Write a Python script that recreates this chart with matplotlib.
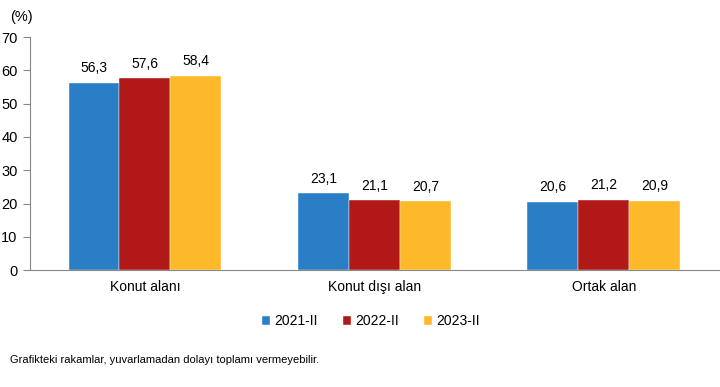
import matplotlib.pyplot as plt
import numpy as np

plt.rcParams['font.family'] = ['Liberation Sans', 'DejaVu Sans']

categories = ["Konut alanı", "Konut dışı alan", "Ortak alan"]
series = ["2021-II", "2022-II", "2023-II"]
v2021 = [56.3, 23.1, 20.6]
v2022 = [57.6, 21.1, 21.2]
v2023 = [58.4, 20.7, 20.9]
colors = ["#2a7ec6", "#b11818", "#fdb92a"]
yticks = [0, 10, 20, 30, 40, 50, 60, 70]

fig = plt.figure(figsize=(7.2, 3.87), dpi=100)
ax = fig.add_axes([0.042, 0.302, 0.956, 0.602])

x = np.arange(len(categories))
w = 0.222
for i, (name, vals) in enumerate(zip(series, [v2021, v2022, v2023])):
    pos = x + (i - 1) * w
    ax.bar(pos, vals, width=w, color=colors[i], label=name,
           edgecolor="white", linewidth=0.3)
    for p, v in zip(pos, vals):
        ax.text(p, v + 2.2, f"{v:.1f}".replace(".", ","), ha="center",
                va="bottom", fontsize=10)

ax.set_xlim(-0.5, 2.5)
ax.set_ylim(0, 70)
ax.set_yticks(yticks)
ax.set_yticklabels([str(t) for t in yticks], fontsize=10.5)
ax.set_xticks(x)
ax.set_xticklabels(categories, fontsize=10)
ax.tick_params(axis="x", length=0, pad=7)
ax.tick_params(axis="y", length=5, color="#888888", pad=4)
for s in ["top", "right"]:
    ax.spines[s].set_visible(False)
ax.spines["left"].set_color("#888888")
ax.spines["bottom"].set_color("#888888")

fig.text(0.014, 0.955, "(%)", fontsize=10.5, va="center")

fig.legend(loc="center", bbox_to_anchor=(0.515, 0.17), ncol=3, frameon=False,
           fontsize=10, handlelength=0.6, handleheight=0.6, handletextpad=0.3,
           columnspacing=1.8)

fig.text(0.014, 0.07, "Grafikteki rakamlar, yuvarlamadan dolayı toplamı vermeyebilir.",
         fontsize=8, va="center")

fig.savefig("out.png", dpi=100)
